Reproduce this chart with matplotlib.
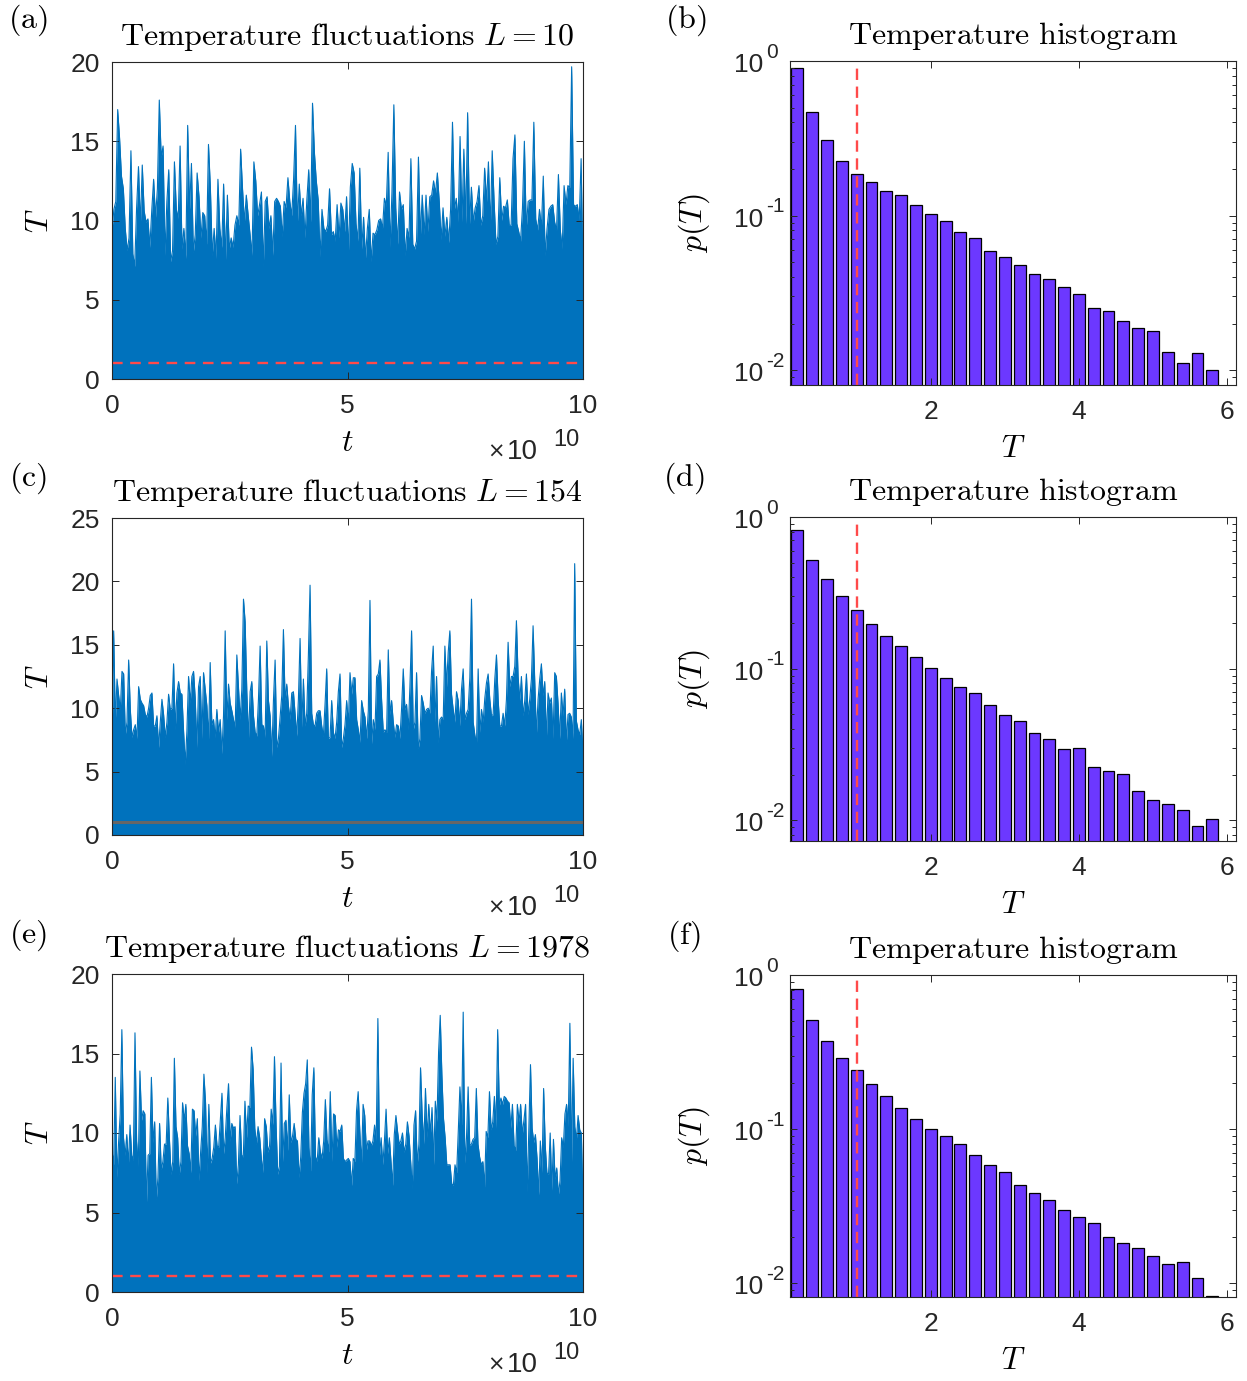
import numpy as np
import matplotlib
matplotlib.use("Agg")
import matplotlib.pyplot as plt
from matplotlib.ticker import FuncFormatter, LogLocator, NullFormatter

plt.rcParams["font.family"] = ["Liberation Sans", "DejaVu Sans"]
plt.rcParams["mathtext.fontset"] = "custom"
plt.rcParams["mathtext.rm"] = "Liberation Sans"
plt.rcParams["mathtext.it"] = "Liberation Sans:italic"

# temperature traces (upper envelope sampled across the run), t in [0, 1e11]
T_L10 = [9.4, 10.7, 11.2, 17.0, 15.2, 12.8, 12.0, 9.5, 8.1, 8.9, 14.4, 7.9, 7.1, 10.8, 13.4, 9.7,
         13.5, 10.6, 9.9, 10.1, 8.3, 10.6, 12.6, 10.2, 12.0, 17.6, 14.0, 14.7, 7.8, 11.2, 13.2, 7.4,
         8.1, 13.7, 10.7, 10.1, 14.7, 8.2, 9.5, 7.6, 16.0, 10.7, 13.6, 8.0, 9.1, 13.0, 11.5, 8.9,
         10.5, 10.3, 8.5, 14.8, 12.1, 7.8, 9.5, 7.6, 12.6, 9.5, 8.3, 12.3, 7.5, 11.6, 8.2, 8.9,
         8.3, 9.7, 10.3, 9.7, 14.5, 12.0, 9.9, 11.6, 10.3, 9.1, 7.8, 13.7, 12.5, 10.3, 11.0, 11.8,
         7.1, 11.2, 11.5, 9.5, 10.3, 7.8, 11.2, 11.4, 11.2, 10.9, 9.0, 11.2, 10.8, 12.7, 11.2, 10.3,
         12.6, 16.0, 9.8, 12.3, 10.3, 11.4, 8.9, 11.3, 13.2, 9.9, 17.4, 14.3, 12.5, 11.3, 7.7, 10.7,
         9.5, 9.3, 9.7, 12.0, 9.1, 9.3, 8.7, 11.0, 8.9, 11.1, 10.7, 9.3, 11.5, 8.0, 12.1, 13.6,
         13.0, 9.8, 8.7, 13.3, 8.2, 10.2, 7.6, 9.5, 10.7, 7.4, 9.2, 9.1, 9.4, 10.0, 10.1, 9.5,
         11.4, 10.9, 14.3, 8.3, 11.8, 17.3, 10.8, 8.5, 11.8, 10.7, 11.0, 7.8, 9.5, 8.9, 13.9, 8.5,
         8.2, 8.7, 14.0, 8.9, 11.6, 9.1, 11.6, 9.3, 11.5, 11.6, 12.5, 11.7, 13.0, 11.2, 8.8, 10.8,
         9.0, 10.2, 8.6, 10.7, 16.2, 10.7, 11.4, 9.9, 15.3, 9.9, 14.5, 9.8, 16.8, 9.8, 12.1, 9.9,
         10.8, 11.2, 12.2, 9.7, 10.3, 13.3, 11.2, 13.7, 9.5, 14.4, 11.2, 8.5, 9.0, 12.7, 10.0, 10.9,
         10.8, 11.3, 9.7, 9.7, 13.9, 15.4, 9.8, 9.3, 8.7, 10.8, 15.0, 9.5, 11.2, 11.3, 11.3, 16.2,
         10.1, 9.4, 10.7, 9.5, 12.8, 7.8, 9.5, 10.7, 10.9, 11.0, 9.9, 9.4, 12.9, 9.4, 8.2, 12.2,
         11.0, 12.2, 12.1, 19.7, 11.0, 10.9, 11.0, 10.0, 13.9, 6.5]

T_L154 = [6.6, 16.1, 8.9, 12.3, 11.0, 9.9, 12.9, 12.7, 7.9, 8.9, 13.8, 9.9, 7.7, 8.3, 8.7, 7.6,
          11.7, 10.7, 10.4, 10.2, 9.5, 9.3, 10.0, 11.0, 11.2, 8.6, 8.6, 9.4, 6.9, 8.9, 10.7, 9.5,
          7.7, 8.9, 11.1, 9.9, 10.0, 13.5, 8.3, 11.2, 12.1, 11.2, 11.1, 8.2, 5.6, 8.2, 12.5, 10.4,
          12.5, 12.9, 10.8, 6.9, 11.7, 12.5, 7.6, 12.8, 11.5, 10.2, 7.6, 13.6, 8.7, 9.1, 7.7, 9.9,
          8.1, 9.1, 6.4, 9.4, 16.1, 9.1, 11.9, 10.4, 9.8, 9.1, 8.5, 14.2, 11.6, 9.1, 11.5, 18.6,
          16.8, 11.3, 7.6, 11.3, 12.1, 9.4, 8.1, 7.8, 10.7, 14.9, 8.7, 8.6, 7.7, 15.3, 10.6, 9.4,
          6.2, 10.6, 13.8, 6.9, 7.6, 9.3, 11.0, 16.2, 10.6, 11.9, 10.2, 9.1, 11.2, 11.3, 9.6, 7.8,
          10.7, 15.5, 8.5, 12.3, 8.6, 9.6, 14.2, 19.7, 9.6, 8.7, 8.6, 9.6, 9.8, 9.8, 8.6, 7.8,
          10.3, 13.1, 7.6, 7.7, 10.6, 8.1, 7.6, 8.9, 11.3, 12.7, 6.9, 7.6, 8.7, 10.6, 8.7, 12.8,
          11.1, 12.4, 12.4, 9.1, 8.3, 7.3, 10.6, 9.8, 9.3, 7.6, 9.8, 18.5, 7.2, 9.1, 8.3, 12.5,
          12.7, 13.8, 10.6, 8.1, 8.3, 8.1, 14.6, 9.5, 10.6, 8.9, 7.7, 8.7, 8.6, 7.6, 10.0, 13.1,
          9.9, 10.3, 8.3, 11.7, 16.1, 8.3, 8.9, 12.8, 6.8, 7.6, 11.0, 10.4, 9.6, 9.9, 10.0, 9.6,
          12.9, 14.9, 8.9, 12.5, 7.3, 9.1, 9.3, 9.1, 14.9, 11.7, 14.4, 16.1, 11.1, 9.9, 8.9, 11.3,
          10.6, 8.6, 11.5, 13.1, 9.1, 9.6, 9.9, 12.4, 18.6, 8.9, 7.9, 7.2, 13.1, 8.1, 9.9, 8.9,
          10.8, 12.0, 12.7, 10.7, 9.4, 9.5, 12.3, 14.2, 10.7, 8.6, 8.6, 9.6, 8.6, 10.7, 15.2, 11.7,
          12.5, 12.5, 13.3, 16.9, 12.5, 10.6, 12.5, 9.4, 10.6, 12.7, 9.5, 10.7, 12.3, 16.5, 12.1, 7.9,
          10.7, 12.3, 13.5, 11.0, 12.1, 7.6, 11.2, 10.4, 10.8, 7.6, 12.8, 12.5, 10.4, 7.6, 11.2, 9.4,
          11.5, 7.3, 9.5, 9.6, 9.3, 7.6, 21.4, 9.0, 8.3, 7.9, 9.1, 6.4]

T_L1978 = [8.9, 8.0, 13.5, 7.2, 9.4, 11.2, 16.5, 9.7, 8.6, 9.9, 8.0, 10.5, 8.6, 8.3, 16.3, 9.5,
           7.9, 13.9, 10.8, 11.4, 11.2, 5.6, 8.6, 8.7, 13.5, 9.4, 10.7, 5.8, 7.2, 10.6, 7.7, 8.2,
           9.3, 9.3, 12.2, 9.6, 7.4, 8.2, 14.7, 10.4, 9.7, 7.4, 8.2, 11.9, 10.8, 11.8, 9.2, 8.7,
           7.5, 11.5, 11.4, 9.8, 10.9, 7.0, 8.8, 10.4, 13.7, 11.9, 7.5, 11.8, 8.1, 8.4, 9.1, 10.5,
           9.2, 9.1, 10.8, 12.5, 8.7, 9.7, 11.6, 13.1, 9.5, 10.6, 10.3, 10.4, 6.8, 8.0, 11.1, 8.6,
           8.5, 12.0, 9.7, 11.7, 11.6, 15.4, 14.0, 10.3, 9.3, 10.4, 9.7, 8.4, 7.5, 10.9, 10.4, 8.8,
           9.2, 11.5, 10.5, 14.8, 10.4, 7.4, 7.9, 14.4, 8.2, 10.6, 10.8, 8.9, 12.4, 9.4, 9.8, 10.6,
           9.6, 9.5, 7.2, 8.5, 11.3, 12.5, 13.1, 14.6, 9.1, 7.6, 12.4, 14.1, 8.5, 8.2, 9.7, 8.8,
           8.4, 9.5, 12.1, 9.6, 8.8, 12.6, 8.2, 11.2, 11.1, 9.1, 10.2, 10.1, 10.5, 8.4, 8.2, 8.3,
           8.4, 8.2, 6.7, 8.4, 8.2, 11.4, 12.6, 10.1, 8.0, 11.8, 11.1, 8.9, 9.5, 9.5, 9.2, 9.5,
           10.5, 9.5, 17.2, 8.6, 9.7, 8.0, 9.5, 11.5, 8.7, 9.7, 8.2, 6.7, 9.9, 11.1, 10.1, 9.3,
           9.5, 10.0, 8.8, 9.3, 10.7, 9.8, 8.2, 6.5, 10.5, 11.4, 8.0, 9.3, 14.1, 11.1, 9.3, 12.8,
           9.7, 11.8, 9.9, 11.6, 8.0, 12.0, 10.7, 15.1, 17.4, 13.7, 10.9, 9.7, 8.0, 8.0, 8.0, 6.8,
           6.7, 8.0, 7.5, 10.1, 12.9, 10.5, 17.6, 8.1, 9.7, 12.9, 9.2, 9.3, 9.6, 9.7, 12.8, 9.3,
           8.5, 8.0, 8.2, 6.6, 10.1, 9.7, 12.6, 10.2, 10.7, 12.3, 10.3, 16.5, 11.7, 12.2, 11.8, 12.3,
           12.2, 12.0, 11.9, 10.3, 11.8, 9.2, 8.9, 11.8, 10.7, 11.8, 9.9, 10.8, 11.8, 6.3, 10.3, 14.3,
           10.3, 9.4, 9.9, 8.4, 6.1, 9.5, 7.5, 12.8, 9.2, 7.5, 7.4, 10.0, 6.4, 9.6, 7.1, 7.8,
           6.1, 7.0, 9.7, 9.1, 11.2, 11.8, 10.4, 16.9, 8.2, 14.7, 10.4, 9.6, 11.1, 10.2, 10.0, 5.5]

# histogram bin centres and probabilities p(T)
T_bins = [0.2, 0.4, 0.6, 0.8, 1.0, 1.2, 1.4, 1.6, 1.8, 2.0, 2.2, 2.4, 2.6, 2.8, 3.0,
          3.2, 3.4, 3.6, 3.8, 4.0, 4.2, 4.4, 4.6, 4.8, 5.0, 5.2, 5.4, 5.6, 5.8]
p_L10 = [0.90, 0.468, 0.306, 0.225, 0.185, 0.165, 0.145, 0.1355, 0.1167, 0.102, 0.0923,
         0.0788, 0.0713, 0.0587, 0.0537, 0.0479, 0.0418, 0.0387, 0.0345, 0.0311, 0.0251,
         0.0240, 0.0208, 0.0186, 0.0179, 0.0130, 0.0111, 0.0128, 0.01005]
p_L154 = [0.820, 0.521, 0.391, 0.301, 0.245, 0.197, 0.163, 0.141, 0.119, 0.101, 0.0867,
          0.0756, 0.0694, 0.0572, 0.0493, 0.0450, 0.0375, 0.0344, 0.0295, 0.0298, 0.0226,
          0.0210, 0.0203, 0.0157, 0.0136, 0.0128, 0.0117, 0.00923, 0.01026]
p_L1978 = [0.811, 0.509, 0.374, 0.290, 0.242, 0.195, 0.165, 0.137, 0.117, 0.101, 0.0897,
           0.0800, 0.0676, 0.0582, 0.0527, 0.0432, 0.0384, 0.0349, 0.0299, 0.0268, 0.0247,
           0.0199, 0.0183, 0.0170, 0.0151, 0.0133, 0.0137, 0.0108, 0.00824]

sizes = [10, 154, 1978]
traces = [T_L10, T_L154, T_L1978]
hists = [p_L10, p_L154, p_L1978]
ts_ymax = [20, 25, 20]
hist_ymin = [0.0080, 0.0073, 0.00816]
decades = [1.0, 0.1, 0.01]
T_ref = 1.0

BLUE = "#0072BD"
BAR = "#6C38FF"
DASH_RED = "#FF4A4A"
AX_COL = "#262626"

W, H = 1247, 1381
fig = plt.figure(figsize=(W / 100, H / 100), dpi=100)


def px_axes(left, top, right, bottom):
    return fig.add_axes([left / W, 1 - bottom / H, (right - left) / W, (bottom - top) / H])


def style(ax):
    ax.tick_params(which="both", direction="in", top=True, right=True,
                   colors=AX_COL, labelsize=19, width=0.7)
    ax.tick_params(which="major", length=5)
    ax.tick_params(which="minor", length=3)
    ax.tick_params(axis="x", pad=11)
    ax.tick_params(axis="y", pad=9)
    for s in ax.spines.values():
        s.set_color(AX_COL)
        s.set_linewidth(0.8)


ts_boxes = [(112, 62, 583, 379), (112, 518, 583, 835), (112, 974, 583, 1292)]
hist_boxes = [(790, 61, 1236, 385), (790, 517, 1236, 841), (790, 975, 1236, 1297)]
letters = [("a", "b"), ("c", "d"), ("e", "f")]
letter_xy = [((28, 20), (686, 20)), ((28, 478), (684, 478)), ((28, 935), (684, 936))]

for i in range(3):
    # --- time series ---
    ax = px_axes(*ts_boxes[i])
    vals = np.array(traces[i])
    t = np.linspace(0, 1e11, len(vals))
    ax.fill_between(t, 0, vals, color=BLUE, lw=0)
    ax.plot(t, vals, color=BLUE, lw=0.8)
    if i == 1:
        ax.axhline(T_ref, color="#666666", lw=2.2)
    else:
        ax.axhline(T_ref, color=DASH_RED, lw=1.7, dashes=(4.5, 3.2))
    ax.set_xlim(0, 1e11)
    ax.set_ylim(0, ts_ymax[i])
    ax.set_xticks([0, 5e10, 1e11])
    ax.xaxis.set_major_formatter(FuncFormatter(lambda v, p: f"{v / 1e10:g}"))
    ax.set_yticks(np.arange(0, ts_ymax[i] + 1, 5))
    style(ax)
    ax.set_xlabel(r"$t$", math_fontfamily="cm", fontsize=23)
    ax.xaxis.set_label_coords(0.5, -0.155)
    ax.set_ylabel(r"$T$", math_fontfamily="cm", fontsize=23)
    ax.yaxis.set_label_coords(-0.12, 0.5)
    ax.set_title(r"$\mathrm{Temperature\ fluctuations}\ L=%d$" % sizes[i],
                 math_fontfamily="cm", fontsize=23, pad=12)
    # exponent of the t axis, written out as "x10" with a raised "10"
    ax.text(0.834, -0.230, "\u00d7", transform=ax.transAxes, fontsize=15,
            color=AX_COL, va="center", ha="right", family="DejaVu Sans")
    ax.text(0.838, -0.230, "10", transform=ax.transAxes, fontsize=20,
            color=AX_COL, va="center", ha="left")
    ax.text(0.936, -0.192, "10", transform=ax.transAxes, fontsize=17,
            color=AX_COL, va="center", ha="left")

    # --- histogram ---
    hx = px_axes(*hist_boxes[i])
    hx.bar(T_bins, hists[i], width=0.16, color=BAR, edgecolor="black", lw=0.9)
    hx.axvline(T_ref, color=DASH_RED, lw=1.7, dashes=(4.8, 2.8))
    hx.set_yscale("log")
    hx.set_xlim(0.1, 6.12)
    hx.set_ylim(hist_ymin[i], 1.0)
    hx.set_xticks([2, 4, 6])
    hx.yaxis.set_major_locator(LogLocator(base=10, numticks=5))
    hx.yaxis.set_minor_locator(LogLocator(base=10, subs=np.arange(2, 10), numticks=10))
    hx.yaxis.set_major_formatter(NullFormatter())
    hx.yaxis.set_minor_formatter(NullFormatter())
    style(hx)
    # decade labels drawn as base + raised exponent
    for v in decades:
        hx.annotate("10", xy=(0, v), xycoords=("axes fraction", "data"),
                    xytext=(-27, -4), textcoords="offset pixels", fontsize=19,
                    color=AX_COL, ha="right", va="center")
        hx.annotate("%d" % round(np.log10(v)), xy=(0, v), xycoords=("axes fraction", "data"),
                    xytext=(-24, 9), textcoords="offset pixels", fontsize=15,
                    color=AX_COL, ha="left", va="center")
    hx.set_xlabel(r"$T$", math_fontfamily="cm", fontsize=23)
    hx.xaxis.set_label_coords(0.5, -0.152)
    hx.set_ylabel(r"$p(T)$", math_fontfamily="cm", fontsize=23)
    hx.yaxis.set_label_coords(-0.175, 0.5)
    hx.set_title(r"$\mathrm{Temperature\ histogram}$", math_fontfamily="cm",
                 fontsize=23, pad=12)

    for (lx, ly), s in zip(letter_xy[i], letters[i]):
        fig.text(lx / W, 1 - ly / H, r"$\mathrm{(%s)}$" % s, math_fontfamily="cm",
                 fontsize=23, ha="center", va="center")

fig.savefig("out.png", dpi=100)
